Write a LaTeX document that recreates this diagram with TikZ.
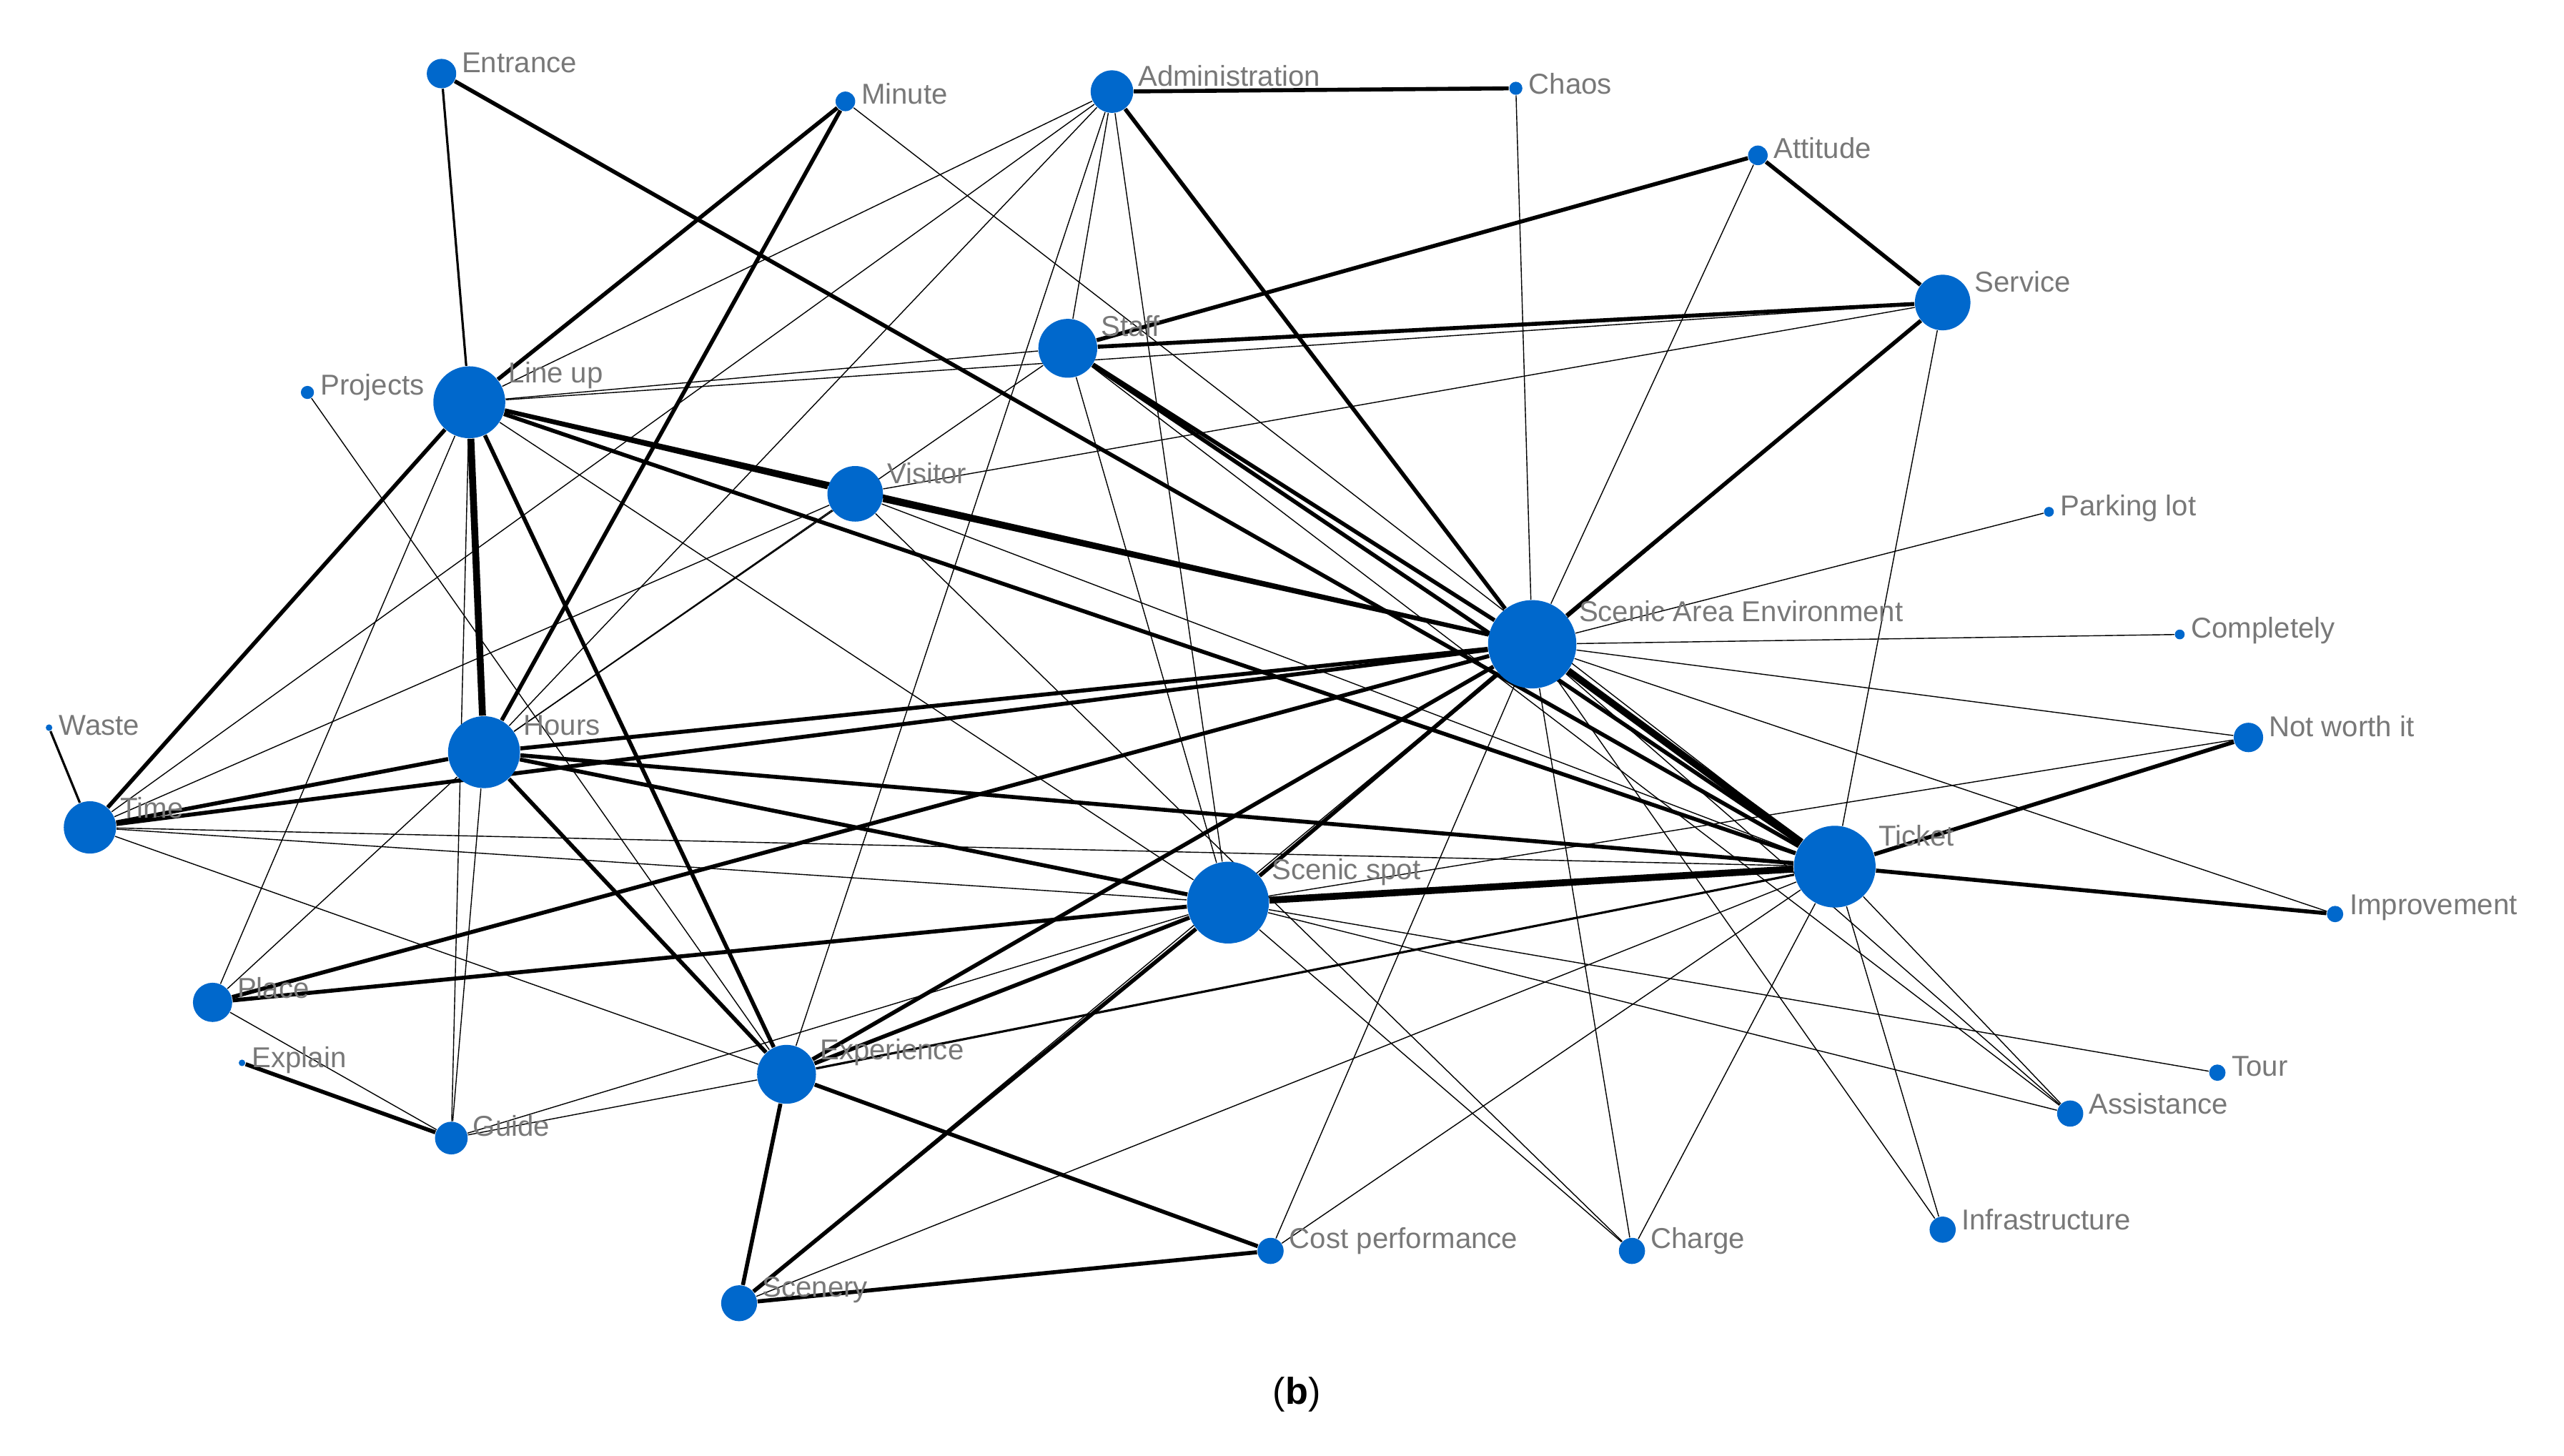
\documentclass[tikz,border=0pt]{standalone}
\usepackage{fontspec}
\setmainfont{Liberation Sans}
\usetikzlibrary{backgrounds,calc}
\begin{document}
\begin{tikzpicture}[x=0.02cm,y=-0.02cm,
  nd/.style={circle,fill=nodeblue,inner sep=0pt},
  lb/.style={text=labgray,font=\fontsize{10}{12}\selectfont,anchor=west,inner sep=0pt},
  t1/.style={line width=0.35pt},
  t2/.style={line width=0.8pt},
  t3/.style={line width=1.4pt},
  t4/.style={line width=2.4pt}]
\definecolor{nodeblue}{RGB}{0,104,204}
\definecolor{labgray}{RGB}{120,120,120}
\useasboundingbox (0,0) rectangle (1568,890);
\newcommand{\N}[5]{\node[nd,minimum size=#4*0.04cm] (#1) at (#2,#3) {};
 \node[lb] (#1L) at ($(#1)+(0.9*#4+4,-0.75*#4)$) {#5};}
\N{ent}{270}{45}{9}{Entrance}
\N{min}{517}{62}{6}{Minute}
\N{adm}{680}{56}{13}{Administration}
\N{cha}{927}{54}{4}{Chaos}
\N{att}{1075}{95}{6}{Attitude}
\N{ser}{1188}{185}{17}{Service}
\N{sta}{653}{213}{18}{Staff}
\N{lin}{287}{246}{22}{Line up}
\N{pro}{188}{240}{4}{Projects}
\N{vis}{523}{302}{17}{Visitor}
\N{par}{1253}{313}{3}{Parking lot}
\N{sae}{937}{394}{27}{Scenic Area Environment}
\N{com}{1333}{388}{3}{Completely}
\N{not}{1375}{451}{9}{Not worth it}
\N{was}{30}{445}{2}{Waste}
\N{hou}{296}{460}{22}{Hours}
\N{tim}{55}{506}{16}{Time}
\N{tic}{1122}{530}{25}{Ticket}
\N{spo}{751}{552}{25}{Scenic spot}
\N{imp}{1428}{559}{5}{Improvement}
\N{pla}{130}{613}{12}{Place}
\N{exl}{148}{650}{2}{Explain}
\N{exp}{481}{657}{18}{Experience}
\N{gui}{276}{696}{10}{Guide}
\N{tou}{1356}{656}{5}{Tour}
\N{ass}{1266}{681}{8}{Assistance}
\N{inf}{1188}{752}{8}{Infrastructure}
\N{cos}{777}{765}{8}{Cost performance}
\N{chg}{998}{765}{8}{Charge}
\N{sce}{452}{797}{11}{Scenery}
\node[font=\fontsize{13}{15}\selectfont] (cap) at (793,853) {(\textbf{b})};
\begin{pgfonlayer}{background}
\foreach \a/\b/\w in {ent/lin/t2,ent/tic/t3,min/lin/t3,min/hou/t3,min/tic/t1,
 adm/sae/t3,adm/cha/t3,adm/sta/t1,adm/lin/t1,adm/hou/t1,adm/tim/t1,adm/exp/t1,adm/spo/t1,
 att/sta/t3,att/ser/t3,att/sae/t1,cha/sae/t1,
 ser/sta/t3,ser/sae/t3,ser/vis/t1,ser/tic/t1,ser/spo/t1,ser/lin/t1,
 sta/sae/t3,sta/tic/t3,sta/spo/t1,sta/lin/t1,sta/hou/t1,sta/ass/t1,
 lin/hou/t4,lin/vis/t3,lin/sae/t3,lin/tic/t3,lin/exp/t3,lin/tim/t3,lin/pla/t1,lin/gui/t1,lin/spo/t1,
 pro/exp/t1,vis/sae/t3,vis/hou/t1,vis/tim/t1,vis/tic/t1,vis/chg/t1,
 par/sae/t1,com/sae/t1,
 sae/hou/t3,sae/tim/t3,sae/spo/t3,sae/exp/t3,sae/pla/t3,sae/tic/t4,sae/not/t1,sae/imp/t1,
 sae/chg/t1,sae/inf/t1,sae/cos/t1,sae/ass/t1,sae/sce/t1,
 not/tic/t3,not/spo/t1,was/tim/t2,
 hou/tim/t3,hou/spo/t3,hou/tic/t3,hou/exp/t3,hou/gui/t1,hou/pla/t1,
 tim/spo/t1,tim/tic/t1,tim/exp/t1,
 tic/spo/t4,tic/imp/t3,tic/exp/t2,tic/ass/t1,tic/inf/t1,tic/chg/t1,tic/sce/t1,tic/cos/t1,
 spo/pla/t3,spo/exp/t3,spo/sce/t3,spo/tou/t1,spo/ass/t1,spo/gui/t1,spo/chg/t1,
 exp/gui/t1,exp/sce/t3,exp/cos/t3,exl/gui/t3,pla/gui/t1,sce/cos/t3}
 {\draw[\w] (\a) -- (\b);}
\end{pgfonlayer}
\end{tikzpicture}
\end{document}
